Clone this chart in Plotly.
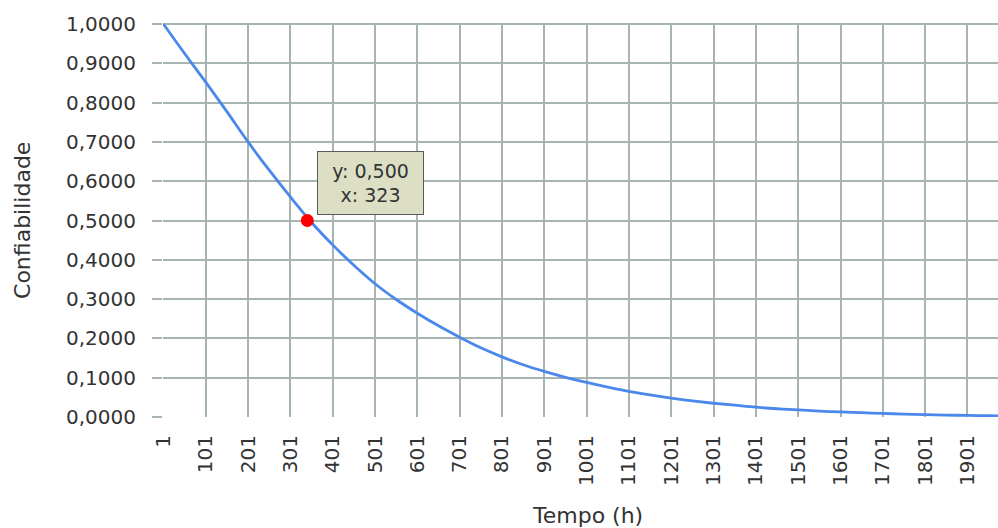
import plotly.graph_objects as go

# Data
tempo = [1, 51, 101, 151, 201, 251, 301, 351, 401, 451, 501, 551, 601, 651,
         701, 751, 801, 851, 901, 951, 1001, 1051, 1101, 1151, 1201, 1251,
         1301, 1351, 1401, 1451, 1501, 1551, 1601, 1651, 1701, 1751, 1801,
         1851, 1901, 1951, 2001]
confiabilidade = [1.000, 0.925, 0.852, 0.777, 0.700, 0.628, 0.560, 0.495,
                  0.438, 0.386, 0.339, 0.299, 0.264, 0.232, 0.203, 0.176,
                  0.153, 0.133, 0.116, 0.101, 0.088, 0.076, 0.065, 0.056,
                  0.048, 0.041, 0.035, 0.030, 0.025, 0.021, 0.018, 0.015,
                  0.013, 0.011, 0.009, 0.0075, 0.006, 0.005, 0.004, 0.0033,
                  0.0027]

ponto_x = [341]
ponto_y = [0.500]
ponto_texto = "y: 0,500<br>x: 323"

x_tickvals = [1, 101, 201, 301, 401, 501, 601, 701, 801, 901, 1001, 1101,
              1201, 1301, 1401, 1501, 1601, 1701, 1801, 1901]
x_ticktext = [str(v) for v in x_tickvals]
y_tickvals = [0.0, 0.1, 0.2, 0.3, 0.4, 0.5, 0.6, 0.7, 0.8, 0.9, 1.0]
y_ticktext = ["0,0000", "0,1000", "0,2000", "0,3000", "0,4000", "0,5000",
              "0,6000", "0,7000", "0,8000", "0,9000", "1,0000"]

FONT = "DejaVu Sans"
TXT = "#333333"
GRID = "#a6b5b2"

fig = go.Figure()
fig.add_trace(go.Scatter(
    x=tempo, y=confiabilidade, mode="lines",
    line=dict(color="#4a88ec", width=2.8, shape="spline", smoothing=1.0),
    showlegend=False, hoverinfo="skip"))
fig.add_trace(go.Scatter(
    x=ponto_x, y=ponto_y, mode="markers",
    marker=dict(color="#ff0000", size=13, line=dict(width=0)),
    showlegend=False))

fig.update_layout(
    width=998, height=528,
    margin=dict(l=163, r=0, t=23, b=111),
    paper_bgcolor="white", plot_bgcolor="white",
    font=dict(family=FONT, size=20, color=TXT),
    xaxis=dict(
        range=[0.0, 1973.2], tickmode="array", tickvals=x_tickvals,
        ticktext=x_ticktext, tickangle=-90, ticks="", showgrid=True,
        gridcolor=GRID, gridwidth=1.5, zeroline=False, showline=False,
        tickfont=dict(family=FONT, size=20, color=TXT),
        ticklabelstandoff=13),
    yaxis=dict(
        range=[0, 1.0026], tickmode="array", tickvals=y_tickvals,
        ticktext=y_ticktext, ticks="outside", ticklen=10, tickcolor=GRID,
        tickwidth=1.5, showgrid=True, gridcolor=GRID, gridwidth=1.5,
        zeroline=False, showline=False,
        tickfont=dict(family=FONT, size=20, color=TXT),
        ticklabelstandoff=12),
)

fig.add_annotation(
    x=ponto_x[0], y=ponto_y[0], xref="x", yref="y",
    text=ponto_texto, showarrow=True, arrowcolor="rgba(0,0,0,0)",
    ax=63, ay=-38, width=105, height=62,
    bgcolor="#dcdfc4", bordercolor="#5a5a5a", borderwidth=1, borderpad=0,
    font=dict(family=FONT, size=19, color=TXT), align="center")

fig.add_annotation(
    x=0.5078, y=-0.2494, xref="paper", yref="paper",
    text="Tempo (h)", showarrow=False, xanchor="center", yanchor="middle",
    font=dict(family=FONT, size=22, color=TXT))
fig.add_annotation(
    x=-0.1689, y=0.5, xref="paper", yref="paper",
    text="Confiabilidade", showarrow=False, textangle=-90,
    xanchor="center", yanchor="middle",
    font=dict(family=FONT, size=22, color=TXT))

fig.write_html("out.html")
